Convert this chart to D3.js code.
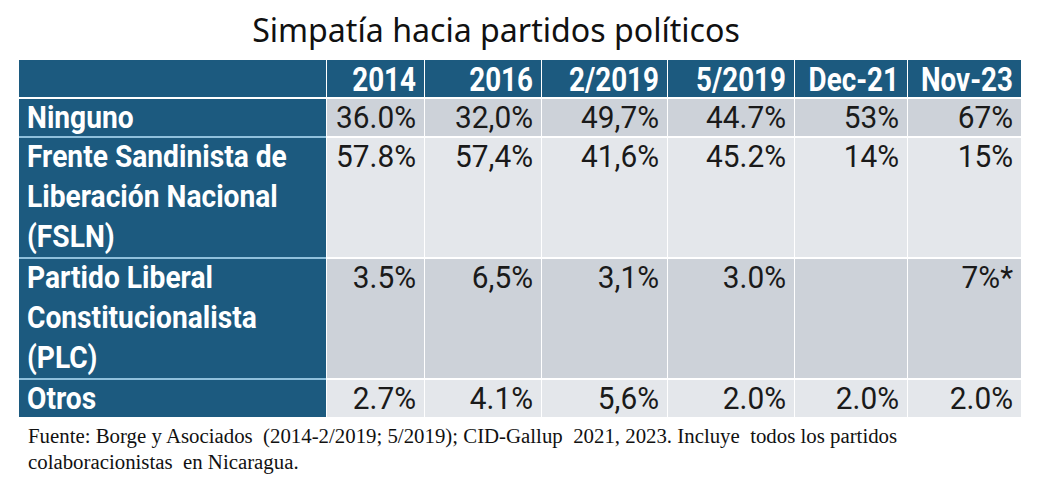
<!DOCTYPE html>
<html>
<head>
<meta charset="utf-8">
<script src="https://cdn.jsdelivr.net/npm/d3@7/dist/d3.min.js"></script>
<style>
  html, body { margin: 0; padding: 0; background: #ffffff; }
  svg { display: block; }
  text { white-space: pre; }
</style>
</head>
<body>
<svg id="chart" width="1047" height="497"></svg>
<script>
// ---- data ----
const title = "Simpatía hacia partidos políticos";
const columns = ["2014", "2016", "2/2019", "5/2019", "Dec-21", "Nov-23"];
const rowLabels = [
  ["Ninguno"],
  ["Frente Sandinista de", "Liberación Nacional", "(FSLN)"],
  ["Partido Liberal", "Constitucionalista", "(PLC)"],
  ["Otros"]
];
const ninguno = ["36.0%", "32,0%", "49,7%", "44.7%", "53%", "67%"];
const fsln    = ["57.8%", "57,4%", "41,6%", "45.2%", "14%", "15%"];
const plc     = ["3.5%",  "6,5%",  "3,1%",  "3.0%",  "",    "7%*"];
const otros   = ["2.7%",  "4.1%",  "5,6%",  "2.0%",  "2.0%", "2.0%"];
const footnote = [
  "Fuente: Borge y Asociados  (2014-2/2019; 5/2019); CID-Gallup  2021, 2023. Incluye  todos los partidos",
  "colaboracionistas  en Nicaragua."
];

// ---- layout ----
const values = [ninguno, fsln, plc, otros];
const colEdges = [19, 326, 424, 541, 667, 794, 907, 1021]; // label col + 6 data cols
const blue = "#1c5a7f";
const rowFill = ["#cdd2d9", "#e4e7eb", "#cdd2d9", "#e4e7eb"];
const sepBlue = "#8fc0dc";

const svg = d3.select("#chart");

const xLeft = d3.scaleOrdinal().domain(["label", ...columns]).range(colEdges.slice(0, 7));
const xRight = d3.scaleOrdinal().domain(["label", ...columns]).range(colEdges.slice(1, 8));

// row geometry
const headerTop = 60, headerH = 37, gap = 2;
const rowLineH = 41, baseRowH = 37, textLineH = 40;
let y = headerTop + headerH + gap;
const rows = rowLabels.map((lab, i) => {
  const h = baseRowH + rowLineH * (lab.length - 1);
  const r = { i, label: lab, vals: values[i], top: y, h };
  y += h + gap;
  return r;
});

// helper: condensed text via horizontal scale
function condensedText(g, str, x, yb, opts) {
  const t = g.append("text")
    .attr("font-family", "Roboto, 'Noto Sans', sans-serif")
    .attr("font-size", opts.size)
    .attr("font-weight", opts.weight || 400)
    .attr("fill", opts.fill)
    .attr("text-anchor", opts.anchor || "start")
    .text(str);
  t.attr("transform", `translate(${x},${yb}) scale(${opts.sx},1)`);
  return t;
}
function measure(str, size, weight, family) {
  const t = svg.append("text").attr("font-family", family)
    .attr("font-size", size).attr("font-weight", weight).text(str);
  const w = t.node().getComputedTextLength();
  t.remove();
  return w;
}
const RF = "Roboto, 'Noto Sans', sans-serif";
const sxNum = 80 / measure("36.0%", 31, 400, RF);
const sxLab = 260 / measure("Frente Sandinista de", 31, 700, RF);
const sxHead = 92 / measure("Nov-23", 34, 700, RF);

// title
const titleSize = 30;
const tw = measure(title, titleSize, 400, "'Noto Sans', sans-serif");
svg.append("text")
  .attr("x", 496).attr("y", 42)
  .attr("text-anchor", "middle")
  .attr("font-family", "'Noto Sans', sans-serif")
  .attr("font-size", titleSize * 488 / tw)
  .attr("fill", "#111")
  .text(title);

// header
const head = svg.append("g");
head.append("rect").attr("x", colEdges[0]).attr("y", headerTop)
  .attr("width", colEdges[7] - colEdges[0]).attr("height", headerH).attr("fill", blue);
columns.forEach(c => {
  head.append("line").attr("x1", xLeft(c) + 0.5).attr("x2", xLeft(c) + 0.5)
    .attr("y1", headerTop).attr("y2", headerTop + headerH)
    .attr("stroke", "#ffffff").attr("stroke-width", 1);
  condensedText(head, c, xRight(c) - 8, headerTop + 31,
    { size: 34, weight: 700, fill: "#ffffff", anchor: "end", sx: sxHead });
});

// body
const body = svg.append("g");
rows.forEach(r => {
  // label cell
  body.append("rect").attr("x", colEdges[0]).attr("y", r.top)
    .attr("width", xRight("label") - colEdges[0]).attr("height", r.h).attr("fill", blue);
  r.label.forEach((ln, k) => {
    condensedText(body, ln, colEdges[0] + 8, r.top + 29 + k * textLineH,
      { size: 31, weight: 700, fill: "#ffffff", sx: sxLab });
  });
  // data cells
  columns.forEach((c, j) => {
    body.append("rect").attr("x", xLeft(c) + 1).attr("y", r.top)
      .attr("width", xRight(c) - xLeft(c) - 1).attr("height", r.h)
      .attr("fill", rowFill[r.i]);
    if (r.vals[j]) {
      condensedText(body, r.vals[j], xRight(c) - 8, r.top + 29,
        { size: 31, weight: 400, fill: "#1a1a1a", anchor: "end", sx: sxNum });
    }
  });
  // light-blue separator in label column below row (between body rows)
  if (r.i < rows.length - 1) {
    body.append("rect").attr("x", colEdges[0]).attr("y", r.top + r.h)
      .attr("width", xRight("label") - colEdges[0]).attr("height", gap)
      .attr("fill", sepBlue);
  }
});

// footnote
const FF = "'Liberation Serif', 'Times New Roman', serif";
const fw = measure(footnote[0], 18, 400, FF);
const fSize = 18 * 870 / fw;
footnote.forEach((ln, k) => {
  svg.append("text").attr("x", 28).attr("y", 443 + k * 26)
    .attr("font-family", FF).attr("font-size", fSize).attr("fill", "#111")
    .text(ln);
});
</script>
</body>
</html>
